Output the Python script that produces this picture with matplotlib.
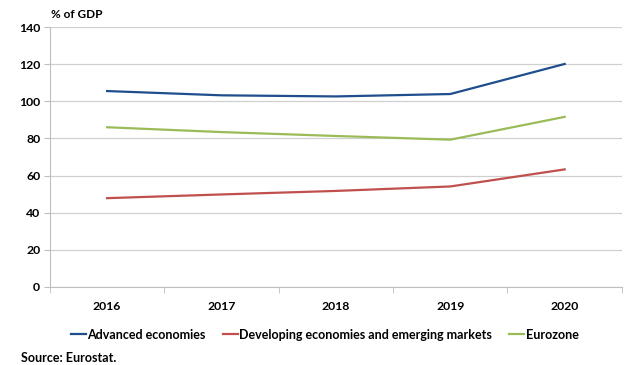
import matplotlib.pyplot as plt
import numpy as np

plt.rcParams['font.family'] = ['Lato', 'DejaVu Sans']
plt.rcParams['font.weight'] = 'bold'

years = ["2016", "2017", "2018", "2019", "2020"]
advanced = [105.5, 103.2, 102.6, 103.9, 120.1]
developing = [47.8, 49.8, 51.7, 54.1, 63.3]
eurozone = [86.0, 83.4, 81.3, 79.3, 91.6]

fig = plt.figure(figsize=(6.32, 3.65), dpi=100)
ax = fig.add_axes([0.079, 0.214, 0.905, 0.712])

x = np.arange(len(years))
ax.plot(x, advanced, color="#1F4E8C", lw=1.6, label="Advanced economies")
ax.plot(x, developing, color="#C0504D", lw=1.6, label="Developing economies and emerging markets")
ax.plot(x, eurozone, color="#9BBB59", lw=1.6, label="Eurozone")

ax.set_xlim(-0.5, len(years) - 0.5)
ax.set_ylim(0, 140)
ax.set_yticks(range(0, 141, 20))
ax.set_xticks(x)
ax.set_xticklabels(years)
# tick marks sit between the categories, like a spreadsheet chart
ax.set_xticks(np.arange(-0.5, len(years), 1), minor=True)
ax.tick_params(axis="x", which="major", length=0, pad=10, labelsize=8.8)
ax.tick_params(axis="x", which="minor", length=4, color="#BFBFBF", direction="out")
ax.tick_params(axis="y", length=4, color="#BFBFBF", labelsize=8.8, pad=3)

ax.grid(axis="y", color="#D0D0D0", lw=0.9)
ax.set_axisbelow(True)
for side in ["top", "right"]:
    ax.spines[side].set_visible(False)
ax.spines["left"].set_color("#BFBFBF")
ax.spines["bottom"].set_color("#BFBFBF")

fig.text(0.080, 0.945, "% of GDP", fontsize=8.5, fontweight="bold", ha="left", va="bottom")

ax.legend(loc="upper center", bbox_to_anchor=(0.48, -0.118), ncol=3, frameon=False,
          fontsize=9, handlelength=1.2, handletextpad=0.1, columnspacing=1.4)

fig.text(0.033, 0.019, "Source: Eurostat.", fontsize=9, fontweight="bold", ha="left", va="center")

fig.savefig("out.png", dpi=100)
